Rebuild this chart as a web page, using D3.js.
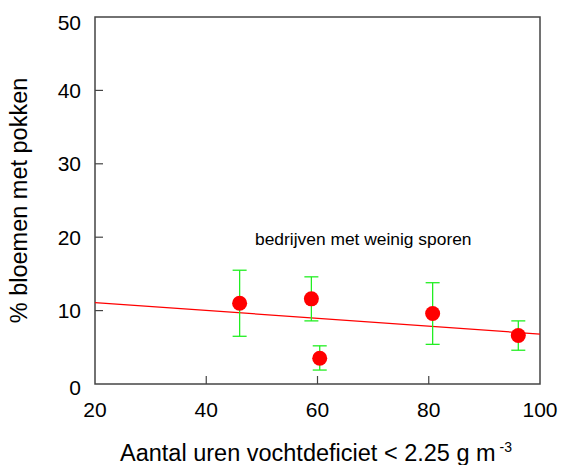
<!DOCTYPE html>
<html>
<head>
<meta charset="utf-8">
<script src="https://cdn.jsdelivr.net/npm/d3@7"></script>
<style>
  body { margin: 0; background: #fff; }
  text { font-family: "Liberation Sans", Arial, sans-serif; fill: #000; }
</style>
</head>
<body>
<svg id="chart" width="562" height="465"></svg>
<script>
// values
var hours = [46, 58.9, 60.4, 80.7, 96.1];
var pct = [11.0, 11.6, 3.5, 9.6, 6.6];
var errHigh = [15.5, 14.6, 5.2, 13.8, 8.6];
var errLow = [6.5, 8.6, 1.9, 5.4, 4.6];
var trendX = [20, 100];
var trendY = [11.1, 6.8];
var xTicks = [20, 40, 60, 80, 100];
var yTicks = [0, 10, 20, 30, 40, 50];

var svg = d3.select("#chart");
var plotL = 95, plotR = 540, plotT = 17, plotB = 384;

var x = d3.scaleLinear().domain([20, 100]).range([plotL, plotR]);
var y = d3.scaleLinear().domain([0, 50]).range([plotB, plotT]);

// frame
svg.append("rect")
  .attr("x", plotL).attr("y", plotT)
  .attr("width", plotR - plotL).attr("height", plotB - plotT)
  .attr("fill", "none").attr("stroke", "#444").attr("stroke-width", 1.5);

// inward ticks
svg.selectAll(".ytick").data(yTicks.slice(1, -1)).enter().append("line")
  .attr("x1", plotL).attr("x2", plotL + 8)
  .attr("y1", d => y(d)).attr("y2", d => y(d))
  .attr("stroke", "#444").attr("stroke-width", 1.2);
svg.selectAll(".xtick").data(xTicks.slice(1, -1)).enter().append("line")
  .attr("x1", d => x(d)).attr("x2", d => x(d))
  .attr("y1", plotB).attr("y2", plotB - 8)
  .attr("stroke", "#444").attr("stroke-width", 1.2);

// tick labels
svg.selectAll(".ylab").data(yTicks).enter().append("text")
  .attr("x", plotL - 14)
  .attr("y", d => y(d) + (d == 50 ? 5 : d == 0 ? 3 : 0))
  .attr("dy", "0.36em")
  .attr("text-anchor", "end")
  .attr("font-size", 21)
  .text(d => d);
svg.selectAll(".xlab").data(xTicks).enter().append("text")
  .attr("x", d => x(d))
  .attr("y", plotB + 33)
  .attr("text-anchor", "middle")
  .attr("font-size", 21)
  .text(d => d);

// axis titles
svg.append("text")
  .attr("transform", "translate(27," + (plotT + plotB) / 2 + ") rotate(-90)")
  .attr("text-anchor", "middle")
  .attr("font-size", 23.5)
  .text("% bloemen met pokken");

var xt = svg.append("text")
  .attr("x", 120).attr("y", 461)
  .attr("font-size", 23.5);
xt.append("tspan").text("Aantal uren vochtdeficiet < 2.25 g m");
xt.append("tspan").attr("dy", -9).attr("font-size", 14).text(" -3");

// annotation
svg.append("text")
  .attr("x", 255).attr("y", 245)
  .attr("font-size", 17.4)
  .text("bedrijven met weinig sporen");

// regression line
svg.append("line")
  .attr("x1", x(trendX[0])).attr("y1", y(trendY[0]))
  .attr("x2", x(trendX[1])).attr("y2", y(trendY[1]))
  .attr("stroke", "#ff0000").attr("stroke-width", 1.3);

// error bars
var eb = svg.selectAll(".err").data(hours).enter().append("g");
eb.append("line")
  .attr("x1", d => x(d)).attr("x2", d => x(d))
  .attr("y1", (d, i) => y(errLow[i])).attr("y2", (d, i) => y(errHigh[i]))
  .attr("stroke", "#22ee22").attr("stroke-width", 1.3);
eb.append("line")
  .attr("x1", d => x(d) - 7).attr("x2", d => x(d) + 7)
  .attr("y1", (d, i) => y(errHigh[i])).attr("y2", (d, i) => y(errHigh[i]))
  .attr("stroke", "#22ee22").attr("stroke-width", 1.3);
eb.append("line")
  .attr("x1", d => x(d) - 7).attr("x2", d => x(d) + 7)
  .attr("y1", (d, i) => y(errLow[i])).attr("y2", (d, i) => y(errLow[i]))
  .attr("stroke", "#22ee22").attr("stroke-width", 1.3);

// points
svg.selectAll(".pt").data(hours).enter().append("circle")
  .attr("cx", d => x(d))
  .attr("cy", (d, i) => y(pct[i]))
  .attr("r", 7.5)
  .attr("fill", "#ff0000");
</script>
</body>
</html>
